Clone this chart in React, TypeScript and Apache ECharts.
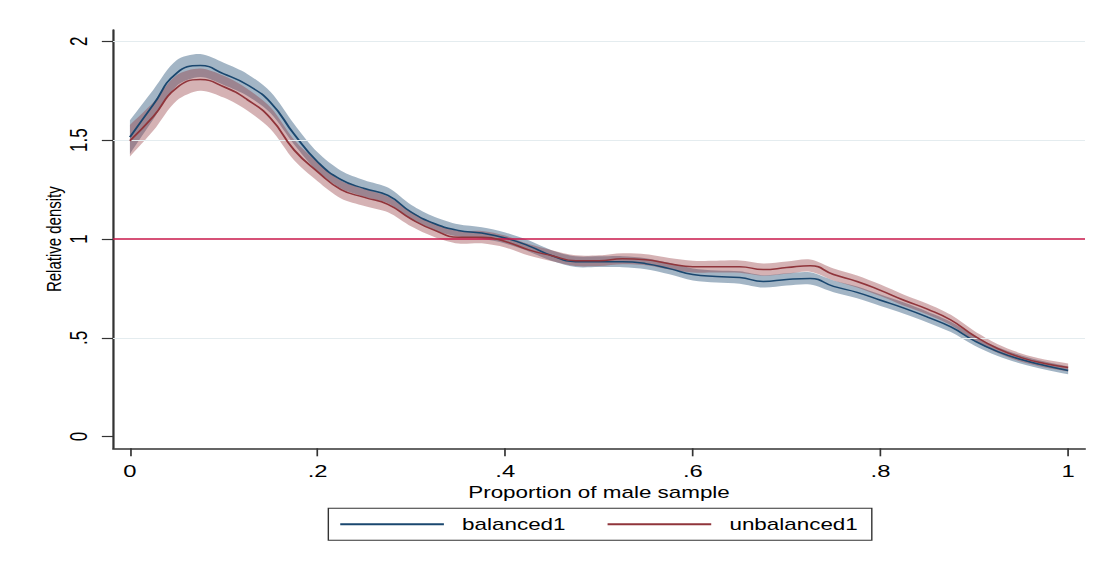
import React, { useEffect, useRef } from "react";
import * as echarts from "echarts";

// ---- data ----
const xValues = [
  0, 0.025, 0.05, 0.075, 0.1, 0.125, 0.15, 0.175, 0.2, 0.225, 0.25, 0.275, 0.3, 0.325,
  0.35, 0.375, 0.4, 0.425, 0.45, 0.475, 0.5, 0.525, 0.55, 0.575, 0.6, 0.625, 0.65,
  0.675, 0.7, 0.725, 0.75, 0.775, 0.8, 0.825, 0.85, 0.875, 0.9, 0.925, 0.95, 0.975, 1,
];
const balanced1 = [
  1.515, 1.68, 1.84, 1.877, 1.835, 1.78, 1.69, 1.53, 1.39, 1.3, 1.255, 1.22, 1.135, 1.077,
  1.043, 1.03, 1.005, 0.965, 0.915, 0.885, 0.885, 0.885, 0.875, 0.85, 0.82, 0.81, 0.805,
  0.785, 0.795, 0.8, 0.76, 0.73, 0.69, 0.65, 0.605, 0.555, 0.485, 0.43, 0.39, 0.36, 0.335,
];
const unbalanced1 = [
  1.497, 1.62, 1.765, 1.806, 1.77, 1.705, 1.61, 1.45, 1.34, 1.25, 1.21, 1.175, 1.1, 1.043,
  1.009, 1.009, 0.987, 0.945, 0.915, 0.89, 0.89, 0.9, 0.895, 0.875, 0.86, 0.86, 0.86,
  0.845, 0.855, 0.865, 0.82, 0.785, 0.74, 0.69, 0.645, 0.59, 0.51, 0.445, 0.4, 0.37, 0.35,
];
// half-width of the confidence bands
const balanced1Half = [
  0.085, 0.075, 0.065, 0.058, 0.056, 0.055, 0.054, 0.052, 0.048, 0.045, 0.042, 0.04, 0.037,
  0.034, 0.031, 0.029, 0.028, 0.028, 0.027, 0.027, 0.027, 0.028, 0.028, 0.029, 0.03, 0.03,
  0.031, 0.031, 0.031, 0.031, 0.03, 0.03, 0.029, 0.028, 0.027, 0.026, 0.024, 0.022, 0.021,
  0.02, 0.02,
];
const unbalanced1Half = [
  0.08, 0.072, 0.064, 0.056, 0.055, 0.055, 0.055, 0.052, 0.048, 0.045, 0.043, 0.04, 0.037,
  0.034, 0.032, 0.031, 0.03, 0.029, 0.028, 0.027, 0.027, 0.028, 0.028, 0.029, 0.03, 0.03,
  0.031, 0.031, 0.031, 0.031, 0.03, 0.03, 0.029, 0.028, 0.027, 0.026, 0.024, 0.022, 0.021,
  0.02, 0.02,
];
const xTicks = [0, 0.2, 0.4, 0.6, 0.8, 1];
const xTickLabels = ["0", ".2", ".4", ".6", ".8", "1"];
const yTicks = [0, 0.5, 1, 1.5, 2];
const yTickLabels = ["0", ".5", "1", "1.5", "2"];
const gridValues = [0.5, 1.5, 2];
const referenceValue = 1;

const seriesNames = ["balanced1", "unbalanced1"];
const xTitle = "Proportion of male sample";
const yTitle = "Relative density";

// ---- layout / style ----
const W = 786;
const H = 562;
const SX = 1101 / W;
const FONT = "'Liberation Sans', Arial, sans-serif";
const BLUE = "#1a476f";
const RED = "#90353b";

const labelFor = (ticks: number[], labels: string[]) => (v: number) => {
  const i = ticks.findIndex((t) => Math.abs(t - v) < 1e-9);
  return i >= 0 ? labels[i] : "";
};

export default function App() {
  const ref = useRef<HTMLDivElement>(null);
  useEffect(() => {
    if (!ref.current) return;
    const chart = echarts.init(ref.current, undefined, { renderer: "svg", width: W, height: H });
    const line = (v: number[]) => xValues.map((x, i) => [x, v[i]]);

    const band = (name: string, v: number[], h: number[], fill: string, z: number, extra: any = {}) => ({
      name,
      type: "custom",
      data: [[0, 0]],
      silent: true,
      z,
      clip: true,
      renderItem: (_params: any, api: any) => {
        const up = xValues.map((x, i) => api.coord([x, v[i] + h[i]]));
        const lo = xValues.map((x, i) => api.coord([x, v[i] - h[i]])).reverse();
        // repeat the corner points so the smoothing keeps the band ends square
        const pts = [up[0], ...up, up[up.length - 1], lo[0], ...lo, lo[lo.length - 1]];
        return {
          type: "polygon",
          shape: { points: pts, smooth: 0.3 },
          style: { fill },
        };
      },
      ...extra,
    });

    chart.setOption({
      animation: false,
      backgroundColor: "#ffffff",
      grid: { left: 80.7, right: 11.4, top: 30, bottom: 113.7, containLabel: false },
      xAxis: {
        type: "value",
        min: -0.018,
        max: 1.018,
        axisLine: { show: true, onZero: false, lineStyle: { color: "#333", width: 1.6 } },
        axisTick: { show: true, length: 8, customValues: xTicks, lineStyle: { color: "#333", width: 1.2 } },
        axisLabel: {
          customValues: xTicks,
          formatter: labelFor(xTicks, xTickLabels),
          fontSize: 17,
          color: "#000",
          fontFamily: FONT,
          margin: 14,
        },
        splitLine: { show: false },
        name: xTitle,
        nameLocation: "middle",
        nameGap: 31,
        nameTextStyle: { fontSize: 16, color: "#000", fontFamily: FONT },
      },
      yAxis: {
        type: "value",
        min: -0.059,
        max: 2.057,
        axisLine: { show: true, onZero: false, lineStyle: { color: "#333", width: 1.6 } },
        axisTick: { show: true, length: 8, customValues: yTicks, lineStyle: { color: "#333", width: 1.2 } },
        axisLabel: {
          customValues: yTicks,
          formatter: labelFor(yTicks, yTickLabels),
          rotate: 90,
          fontSize: 17,
          color: "#000",
          fontFamily: FONT,
          margin: 16,
        },
        splitLine: { show: false },
        name: yTitle,
        nameLocation: "middle",
        nameRotate: 90,
        nameGap: 35,
        nameMoveOverlap: false,
        nameTextStyle: { fontSize: 15, color: "#000", fontFamily: FONT },
      },
      legend: {
        show: true,
        data: seriesNames.map((n) => ({ name: n, icon: "rect" })),
        left: 234.4,
        top: 508.3,
        orient: "horizontal",
        itemWidth: 74,
        itemHeight: 2,
        itemGap: 30,
        padding: [8, 10, 8, 8.5],
        borderColor: "#333",
        borderWidth: 1,
        textStyle: { fontSize: 16, color: "#000", fontFamily: FONT, padding: [0, 0, 0, 8] },
      },
      series: [
        band("bBand", balanced1, balanced1Half, "rgba(26,71,111,0.4)", 2, {
          markLine: {
            silent: true,
            symbol: "none",
            label: { show: false },
            data: [
              ...gridValues.map((v) => ({ yAxis: v, lineStyle: { color: "#e4ecef", width: 1, type: "solid" } })),
              { yAxis: referenceValue, lineStyle: { color: "#c8174a", width: 1.6, type: "solid" } },
            ],
          },
        }),
        band("uBand", unbalanced1, unbalanced1Half, "rgba(144,53,59,0.38)", 3),
        {
          name: seriesNames[0],
          type: "line",
          data: line(balanced1),
          symbol: "none",
          smooth: true,
          color: BLUE,
          lineStyle: { color: BLUE, width: 1.5 },
          z: 4,
        },
        {
          name: seriesNames[1],
          type: "line",
          data: line(unbalanced1),
          symbol: "none",
          smooth: true,
          color: RED,
          lineStyle: { color: RED, width: 1.5 },
          z: 5,
        },
      ],
    });
    return () => chart.dispose();
  }, []);

  return (
    <div
      ref={ref}
      style={{
        position: "absolute",
        left: 0,
        top: 0,
        width: W,
        height: H,
        transform: `scaleX(${SX})`,
        transformOrigin: "0 0",
        background: "#fff",
      }}
    />
  );
}
